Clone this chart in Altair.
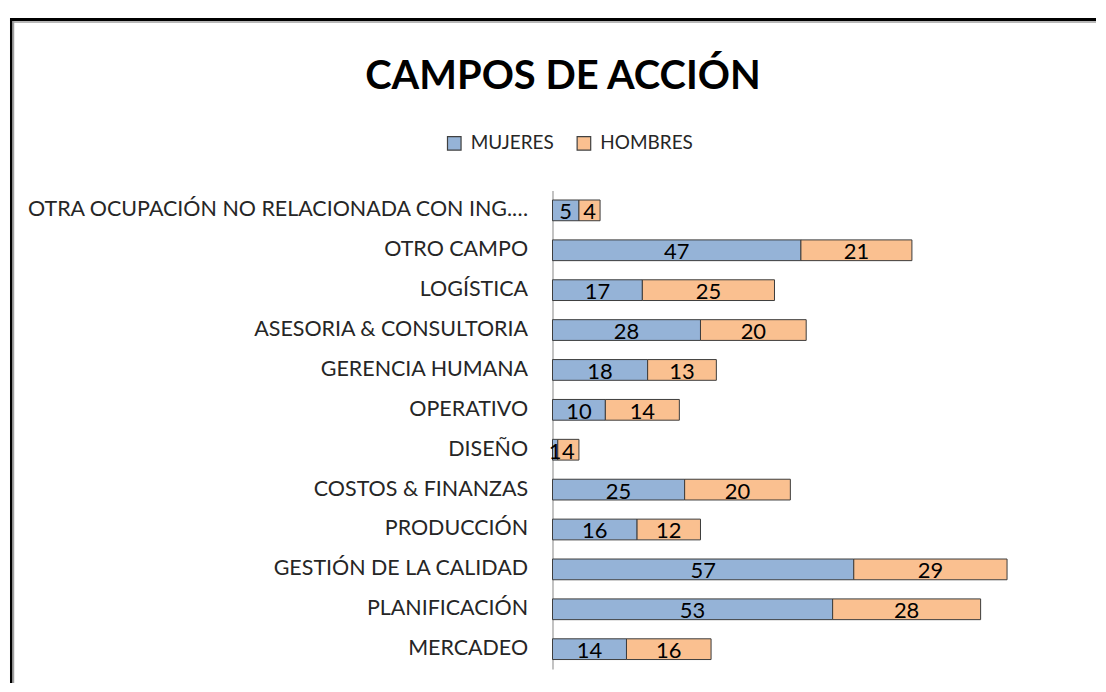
import altair as alt
import pandas as pd

categories = [
    "OTRA OCUPACIÓN NO RELACIONADA CON ING.…",
    "OTRO CAMPO",
    "LOGÍSTICA",
    "ASESORIA & CONSULTORIA",
    "GERENCIA HUMANA",
    "OPERATIVO",
    "DISEÑO",
    "COSTOS & FINANZAS",
    "PRODUCCIÓN",
    "GESTIÓN DE LA CALIDAD",
    "PLANIFICACIÓN",
    "MERCADEO",
]
mujeres = [5, 47, 17, 28, 18, 10, 1, 25, 16, 57, 53, 14]
hombres = [4, 21, 25, 20, 13, 14, 4, 20, 12, 29, 28, 16]
series = ["MUJERES", "HOMBRES"]
colors = ["#95B3D7", "#FAC090"]

rows = []
for c, m, h in zip(categories, mujeres, hombres):
    rows.append({"cat": c, "sexo": "MUJERES", "valor": m, "orden": 0})
    rows.append({"cat": c, "sexo": "HOMBRES", "valor": h, "orden": 1})
df = pd.DataFrame(rows)

FONT = "Lato"

base = alt.Chart(df).transform_stack(
    stack="valor", groupby=["cat"], as_=["x0", "x1"],
    sort=[alt.SortField("orden", order="ascending")]
).transform_calculate(mid="(datum.x0 + datum.x1) / 2")

yenc = alt.Y(
    "cat:N", sort=categories,
    scale=alt.Scale(paddingInner=0.48, paddingOuter=0.24),
    axis=alt.Axis(title=None, ticks=False, domainColor="#9a9a9a", domainWidth=1.2,
                  labelFont=FONT, labelFontSize=21.5, labelColor="#262626",
                  labelPadding=25, labelLimit=0, grid=False),
)
xscale = alt.Scale(domain=[0, 90], nice=False, zero=True)

bars = base.mark_bar(stroke="#3c3c3c", strokeWidth=1).encode(
    x=alt.X("x0:Q", scale=xscale, axis=None),
    x2="x1:Q",
    y=yenc,
    color=alt.Color(
        "sexo:N",
        scale=alt.Scale(domain=series, range=colors),
        legend=alt.Legend(
            title=None, orient="none", legendX=-108, legendY=-57,
            direction="horizontal", symbolType="square", symbolSize=185,
            symbolStrokeColor="#404040", symbolStrokeWidth=1.2,
            labelFont=FONT, labelFontSize=19, labelColor="#262626",
            labelOffset=7, columnPadding=20,
        ),
    ),
)

labels = base.mark_text(font=FONT, fontSize=22, color="black", baseline="middle", dy=2).encode(
    x=alt.X("mid:Q", scale=xscale, axis=None),
    y=alt.Y("cat:N", sort=categories),
    text="valor:Q",
)

one = pd.DataFrame({"k": [0]})
frame_top = alt.Chart(one).mark_rule(color="black", strokeWidth=3).encode(
    x=alt.value(-544), x2=alt.value(545), y=alt.value(-171.5))
frame_top2 = alt.Chart(one).mark_rule(color="#a0a0a0", strokeWidth=1.5).encode(
    x=alt.value(-541), x2=alt.value(545), y=alt.value(-169))
frame_left = alt.Chart(one).mark_rule(color="black", strokeWidth=2.5).encode(
    x=alt.value(-542.75), y=alt.value(-173), y2=alt.value(494))
frame_left2 = alt.Chart(one).mark_rule(color="#a0a0a0", strokeWidth=1.5).encode(
    x=alt.value(-540.5), y=alt.value(-170), y2=alt.value(494))

chart = alt.layer(frame_top, frame_top2, frame_left, frame_left2, bars, labels).properties(
    width=477, height=480,
    padding={"top": 7, "left": 0, "right": 0, "bottom": 0},
    title=alt.TitleParams(
        "CAMPOS DE ACCIÓN", font=FONT, fontSize=40, fontWeight="bold", color="black",
        anchor="middle", dx=-228, offset=-81,
    ),
).configure_view(strokeWidth=0)

chart.save("out.html", embed_options={"renderer": "svg", "actions": False})
